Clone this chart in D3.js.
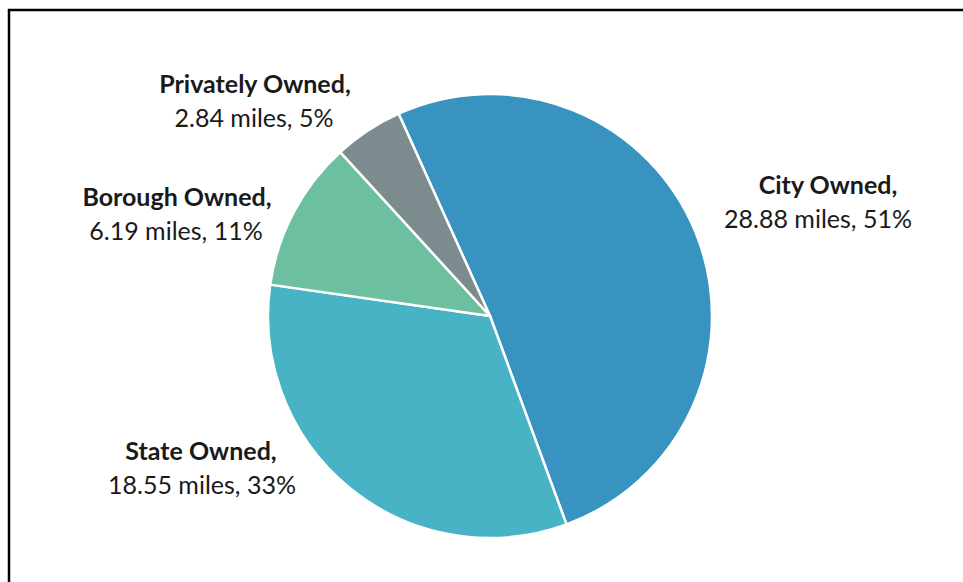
<!DOCTYPE html>
<html>
<head>
<meta charset="utf-8">
<script src="https://cdn.jsdelivr.net/npm/d3@7"></script>
<style>
  html, body { margin: 0; padding: 0; background: #ffffff; }
  svg { display: block; }
  text { font-family: Lato, "Open Sans", sans-serif; fill: #1a1a1a; }
</style>
</head>
<body>
<svg id="chart" width="963" height="582"></svg>
<script>
// Ownership of the route, in miles
const categories = ["City Owned", "State Owned", "Borough Owned", "Privately Owned"];
const miles = [28.88, 18.55, 6.19, 2.84];
const percentLabels = ["51%", "33%", "11%", "5%"];
const colors = ["#3893c0", "#47b3c5", "#6cbf9f", "#7c8b8d"];

const width = 963, height = 582;
const cx = 490, cy = 316, radius = 222;
const startAngle = -24.3 * Math.PI / 180;

const svg = d3.select("#chart");

// frame lines along top and left
svg.append("line").attr("x1", 8).attr("x2", width).attr("y1", 10).attr("y2", 10)
  .attr("stroke", "#000").attr("stroke-width", 2.5);
svg.append("line").attr("x1", 9).attr("x2", 9).attr("y1", 9).attr("y2", height)
  .attr("stroke", "#000").attr("stroke-width", 2.5);

const data = categories.map((c, i) => ({ name: c, value: miles[i], pct: percentLabels[i], color: colors[i] }));

const pie = d3.pie()
  .sort(null)
  .value(d => d.value)
  .startAngle(startAngle)
  .endAngle(startAngle + 2 * Math.PI);

const arc = d3.arc().innerRadius(0).outerRadius(radius);

const g = svg.append("g").attr("transform", `translate(${cx},${cy})`);

g.selectAll("path.slice")
  .data(pie(data))
  .join("path")
  .attr("class", "slice")
  .attr("d", arc)
  .attr("fill", d => d.data.color)
  .attr("stroke", "#ffffff")
  .attr("stroke-width", 2.5)
  .attr("stroke-linejoin", "round");

// label anchors for each slice: [line1 centre x, line2 centre x, line1 baseline]
const labelPos = {
  "City Owned": [828, 818, 194],
  "State Owned": [201, 202, 460],
  "Borough Owned": [177, 176, 206],
  "Privately Owned": [255, 254, 93]
};
const lineGap = 34;
const fontSize = 25;

const labels = svg.append("g").selectAll("g.label")
  .data(data)
  .join("g")
  .attr("class", "label");

labels.append("text")
  .attr("x", d => labelPos[d.name][0])
  .attr("y", d => labelPos[d.name][2])
  .attr("text-anchor", "middle")
  .attr("font-size", fontSize)
  .attr("font-weight", "bold")
  .text(d => d.name + ",");

labels.append("text")
  .attr("x", d => labelPos[d.name][1])
  .attr("y", d => labelPos[d.name][2] + lineGap)
  .attr("text-anchor", "middle")
  .attr("font-size", fontSize)
  .text(d => `${d.value.toFixed(2)} miles, ${d.pct}`);
</script>
</body>
</html>
